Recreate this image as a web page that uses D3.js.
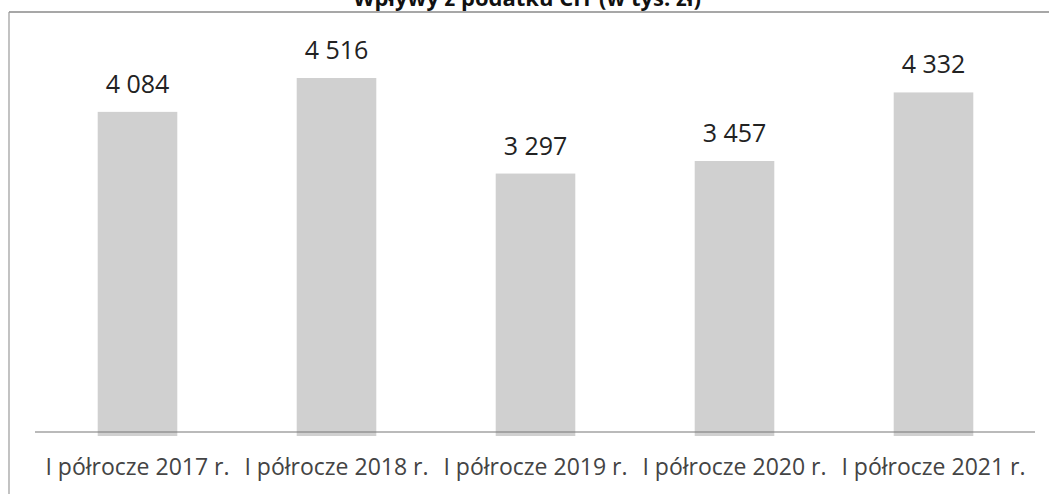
<!DOCTYPE html>
<html>
<head>
<meta charset="utf-8">
<script src="https://cdn.jsdelivr.net/npm/d3@7"></script>
<style>
  body { margin: 0; background: #fff; }
  svg { display: block; }
</style>
</head>
<body>
<div id="chart-container"></div>
<script>
const chartTitle = 'Wpływy z podatku CIT (w tys. zł)';
const categories = ['I półrocze 2017 r.', 'I półrocze 2018 r.', 'I półrocze 2019 r.', 'I półrocze 2020 r.', 'I półrocze 2021 r.'];
const values = [4084, 4516, 3297, 3457, 4332];
const valueLabels = ['4 084', '4 516', '3 297', '3 457', '4 332'];

const chartWidth = 1049;
const chartHeight = 494;
const baseY = 432;

const svg = d3.select('#chart-container')
  .append('svg')
  .attr('width', chartWidth)
  .attr('height', chartHeight);

// frame (top and left edge of the scanned box)
svg.append('line')
  .attr('x1', 9).attr('x2', chartWidth).attr('y1', 12).attr('y2', 12)
  .attr('stroke', '#8a8a8a').attr('stroke-width', 1.5);
svg.append('line')
  .attr('x1', 9).attr('x2', 9).attr('y1', 12).attr('y2', chartHeight)
  .attr('stroke', '#9a9a9a').attr('stroke-width', 1.2);

// title, mostly cut off at the top (as in the scan)
svg.append('text')
  .attr('x', 527)
  .attr('y', 6)
  .attr('text-anchor', 'middle')
  .style('font-family', 'Open Sans, sans-serif')
  .style('font-weight', 'bold')
  .style('font-size', '22px')
  .attr('fill', '#111')
  .text(chartTitle);

const xScale = d3.scaleBand()
  .domain(categories)
  .range([38, 1033])
  .paddingInner(0.6)
  .paddingOuter(0.3);

const yScale = d3.scaleLinear()
  .domain([0, 4516])
  .range([baseY, 78]);

// bars
svg.selectAll('rect.bar')
  .data(values)
  .enter()
  .append('rect')
  .attr('class', 'bar')
  .attr('fill', '#d0d0d0')
  .attr('x', (d, i) => xScale(categories[i]))
  .attr('y', (d) => yScale(d))
  .attr('width', xScale.bandwidth())
  .attr('height', (d) => baseY + 4 - yScale(d));

// baseline
svg.append('line')
  .attr('x1', 35).attr('x2', 1035).attr('y1', baseY).attr('y2', baseY)
  .attr('stroke', '#777').attr('stroke-width', 1.2);

// value labels
svg.selectAll('text.value')
  .data(values)
  .enter()
  .append('text')
  .attr('class', 'value')
  .attr('x', (d, i) => xScale(categories[i]) + xScale.bandwidth() / 2)
  .attr('y', (d) => yScale(d) - 19)
  .attr('text-anchor', 'middle')
  .style('font-family', 'Open Sans, sans-serif')
  .style('font-size', '25px')
  .attr('fill', '#222')
  .text((d, i) => valueLabels[i]);

// x axis labels
const xAxis = d3.axisBottom(xScale).tickSize(0).tickPadding(0);
svg.append('g')
  .attr('transform', `translate(0, ${baseY})`)
  .call(xAxis)
  .call((g) => g.select('.domain').remove())
  .selectAll('text')
  .attr('dy', '0')
  .attr('y', 43)
  .style('font-family', 'Open Sans, sans-serif')
  .style('font-size', '23px')
  .attr('fill', '#444');
</script>
</body>
</html>
